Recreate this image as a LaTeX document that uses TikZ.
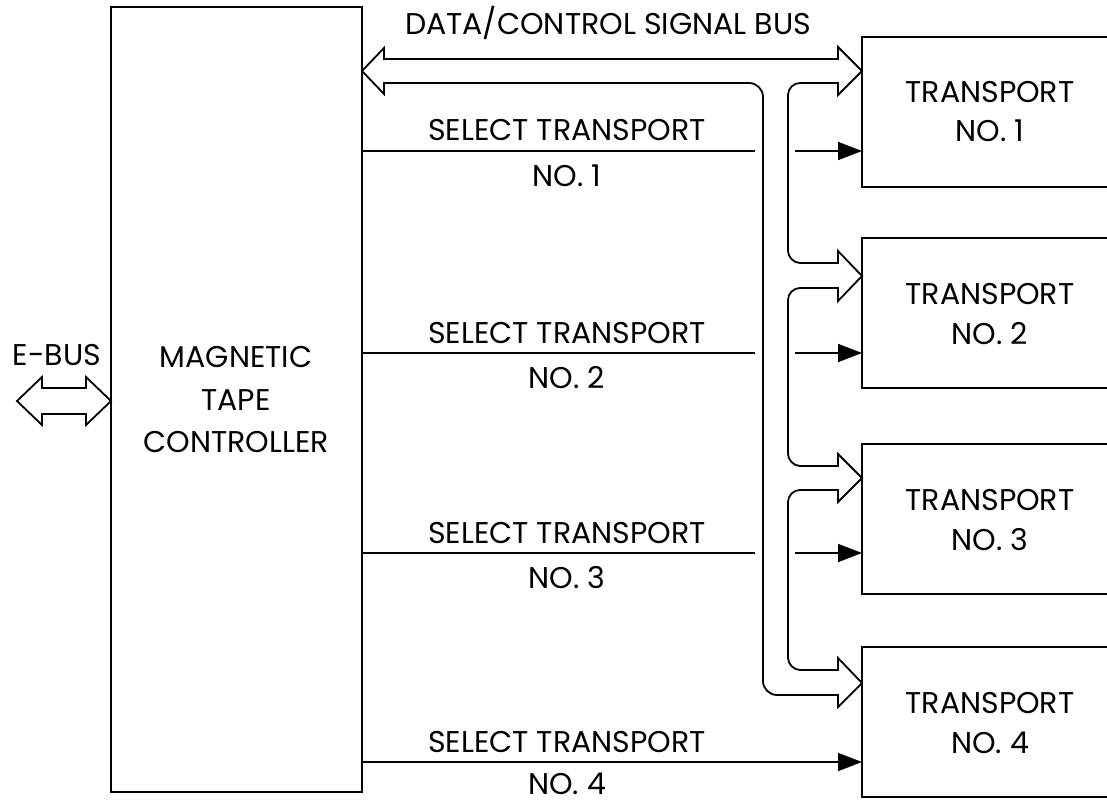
\documentclass[tikz,border=0pt]{standalone}
\usepackage{fontspec}
\setmainfont{Poppins}
\usetikzlibrary{arrows.meta}
\begin{document}
\begin{tikzpicture}[x=1pt,y=-1pt,
  box/.style={draw,line width=2.7pt,outer sep=0pt,inner sep=0pt,rectangle},
  wire/.style={line width=1.7pt},
  bus/.style={line width=1.8pt,line join=miter},
  sel/.style={wire,-{Triangle[length=24pt,width=18pt]}},
  lbl/.style={font=\fontsize{30}{33}\selectfont,inner sep=0pt,anchor=base}]
\useasboundingbox (0,0) rectangle (1107,805);
\clip (0,0) rectangle (1107,805);
% boxes
\node[box,minimum width=251pt,minimum height=785pt] (ctrl) at (236.5,399.5) {};
\node[box,minimum width=270pt,minimum height=150pt] (t1) at (997,112) {};
\node[box,minimum width=270pt,minimum height=150pt] (t2) at (997,313) {};
\node[box,minimum width=270pt,minimum height=150pt] (t3) at (997,519) {};
\node[box,minimum width=270pt,minimum height=150pt] (t4) at (997,722) {};
% labels
\node[lbl] (mag) at (236,367) {MAGNETIC};
\node[lbl] (tape) at (236,410) {TAPE};
\node[lbl] (ctl) at (236,452) {CONTROLLER};
\node[lbl] (ebus) at (57,365) {E-BUS};
\node[lbl] (dcbus) at (608,35) {DATA/CONTROL SIGNAL BUS};
\node[lbl] (t1a) at (990,103) {TRANSPORT};
\node[lbl] (t1b) at (990,142) {NO. 1};
\node[lbl] (t2a) at (990,304) {TRANSPORT};
\node[lbl] (t2b) at (990,344) {NO. 2};
\node[lbl] (t3a) at (990,510) {TRANSPORT};
\node[lbl] (t3b) at (990,550) {NO. 3};
\node[lbl] (t4a) at (990,713) {TRANSPORT};
\node[lbl] (t4b) at (990,753) {NO. 4};
\node[lbl] (s1a) at (567,141) {SELECT TRANSPORT};
\node[lbl] (s1b) at (567,186) {NO. 1};
\node[lbl] (s2a) at (567,343) {SELECT TRANSPORT};
\node[lbl] (s2b) at (567,388) {NO. 2};
\node[lbl] (s3a) at (567,543) {SELECT TRANSPORT};
\node[lbl] (s3b) at (567,588) {NO. 3};
\node[lbl] (s4a) at (567,752) {SELECT TRANSPORT};
\node[lbl] (s4b) at (567,794) {NO. 4};
% coordinates
\coordinate (busL) at (ctrl.east |- 0,71);
\coordinate (b1) at (t1.west |- 0,71);
\coordinate (b2) at (t2.west |- 0,276);
\coordinate (b3) at (t3.west |- 0,478);
\coordinate (b4) at (t4.west |- 0,683);
\coordinate (eR) at (ctrl.west |- 0,401);
\coordinate (eL) at (17,401);
\coordinate (g1) at (755,151); \coordinate (h1) at (795,151);
\coordinate (g2) at (755,353); \coordinate (h2) at (795,353);
\coordinate (g3) at (755,553); \coordinate (h3) at (795,553);
% data/control bus outline
\draw[bus] (busL) -- (384,48) -- (384,59) -- (838,59) -- (838,47) -- (b1) -- (838,95) -- (838,83)
  -- (800,83) .. controls (793.4,83) and (788,88.4) .. (788,95)
  -- (788,251) .. controls (788,256.6) and (793.4,263) .. (800,263)
  -- (838,263) -- (838,251) -- (b2) -- (838,301) -- (838,288)
  -- (800,288) .. controls (793.4,288) and (788,293.4) .. (788,300)
  -- (788,454) .. controls (788,459.6) and (793.4,466) .. (800,466)
  -- (838,466) -- (838,454) -- (b3) -- (838,502) -- (838,490)
  -- (800,490) .. controls (793.4,490) and (788,495.4) .. (788,502)
  -- (788,658) .. controls (788,663.6) and (793.4,670) .. (800,670)
  -- (838,670) -- (838,658) -- (b4) -- (838,707) -- (838,695)
  -- (777,695) .. controls (769.3,695) and (763,688.7) .. (763,681)
  -- (763,97) .. controls (763,89.3) and (756.7,83) .. (749,83)
  -- (384,83) -- (384,94) -- cycle;
% E-bus
\draw[bus] (eL) -- (42,377) -- (42,388) -- (86,388) -- (86,377) -- (eR) -- (86,425) -- (86,414) -- (42,414) -- (42,425) -- cycle;
% select lines
\draw[wire] (ctrl.east |- g1) -- (g1);
\draw[sel] (h1) -- (t1.west |- h1);
\draw[wire] (ctrl.east |- g2) -- (g2);
\draw[sel] (h2) -- (t2.west |- h2);
\draw[wire] (ctrl.east |- g3) -- (g3);
\draw[sel] (h3) -- (t3.west |- h3);
\draw[sel] (ctrl.east |- 0,762) -- (t4.west |- 0,762);
\end{tikzpicture}
\end{document}
